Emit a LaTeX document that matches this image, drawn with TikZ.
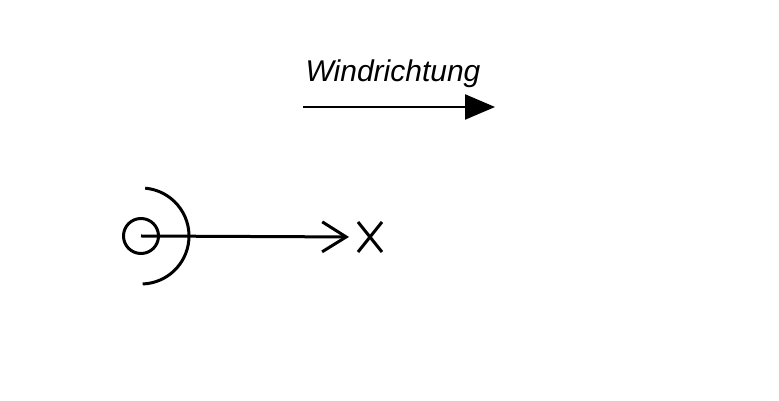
\documentclass[tikz,border=0pt]{standalone}
\usepackage{fontspec}
\setsansfont{Liberation Sans}
\usetikzlibrary{arrows.meta,shapes.misc}

\begin{document}
\begin{tikzpicture}[x=1pt,y=1pt]
	\tikzstyle{every node}=[font=\sffamily\itshape]
	\tikzstyle{strich}=[line width=3pt]
	\useasboundingbox (0,0) rectangle (779,401);
	% Messgeraet und Ziel
	\node [strich, draw, circle, minimum size=35pt, inner sep=0pt] (sensor) at (141,165) {};
	\node [strich, draw, cross out, minimum width=21pt, minimum height=27pt, inner sep=0pt] (ziel) at (370,164) {};
	\draw [strich] (sensor.center) ++(85:48) arc [start angle=85, end angle=-88, radius=48];
	\draw [strich, -{Straight Barb[length=24pt, width=30pt, line width=3pt]}, shorten >=9pt] (sensor.center) -- (ziel.west);
	% Windrichtung
	\coordinate (windA) at (303,294);
	\coordinate (windB) at (495,294);
	\draw [line width=2.4pt, -{Triangle[length=30pt, width=25pt]}] (windA) -- (windB);
	\node [font=\fontsize{30}{32}\selectfont\sffamily\itshape, anchor=base] (wind) at (393,319) {Windrichtung};
\end{tikzpicture}
\end{document}
